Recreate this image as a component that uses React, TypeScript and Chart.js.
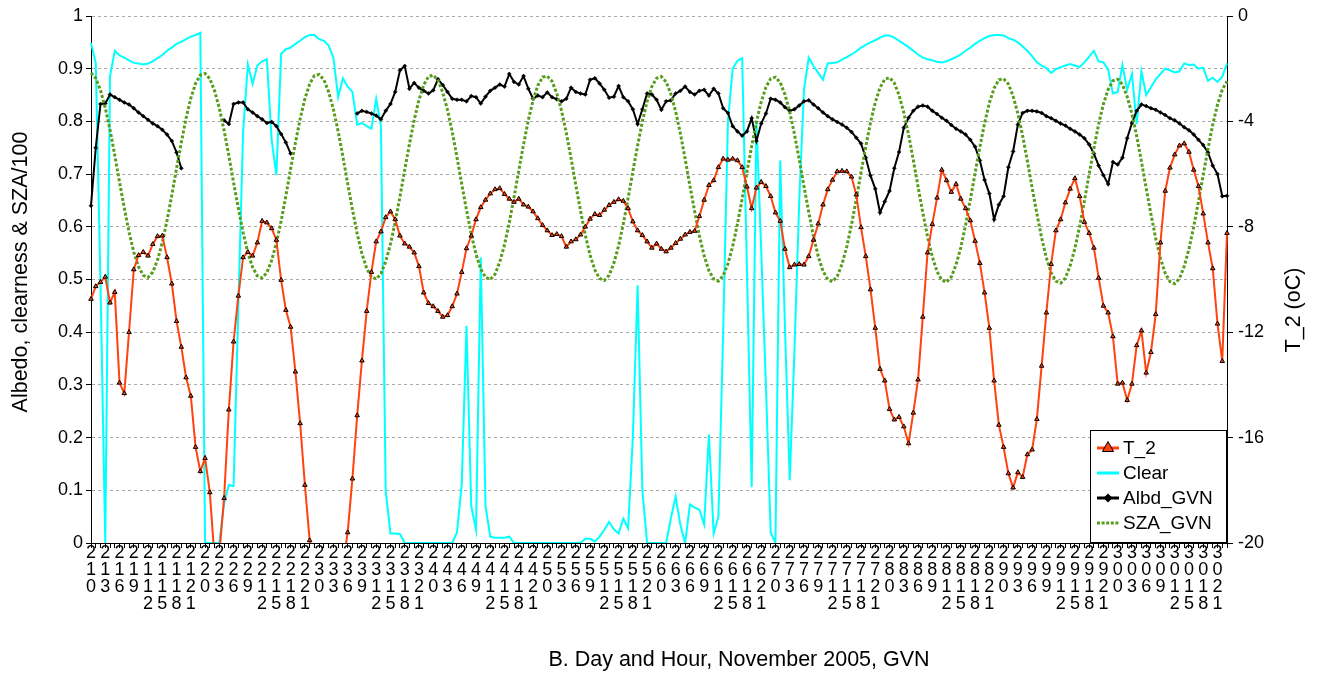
import React, { useEffect, useRef } from 'react';
import { Chart, registerables } from 'chart.js';

Chart.register(...registerables);

// ---------- data ----------
const days = [21, 22, 23, 24, 25, 26, 27, 28, 29, 30];
const hoursOfDay = [0, 1, 2, 3, 4, 5, 6, 7, 8, 9, 10, 11, 12, 13, 14, 15, 16, 17, 18, 19, 20, 21, 22, 23];
const labelEvery = 3;

const seriesNames = ['T_2', 'Clear', 'Albd_GVN', 'SZA_GVN'];

// T_2 (oC), hourly
const t2 = [
  -10.74, -10.26, -10.10, -9.90, -10.88, -10.48, -13.92, -14.32, -12.00, -9.62, -9.08, -8.96, -9.10, -8.66, -8.36, -8.34, -9.16, -10.16, -11.58, -12.56, -13.72, -14.42, -16.36, -17.28,
  -16.78, -18.08, -20.6, -20.4, -18.30, -14.94, -12.36, -10.62, -9.16, -8.96, -9.10, -8.60, -7.78, -7.84, -8.06, -8.50, -10.02, -11.16, -11.80, -13.50, -15.46, -17.80, -19.90, -21.0,
  -21.6, -22.0, -22.2, -22.0, -21.6, -20.8, -19.60, -17.56, -15.16, -13.08, -11.20, -9.72, -8.56, -8.18, -7.64, -7.42, -7.72, -8.34, -8.64, -8.76, -8.98, -9.50, -10.50, -10.90,
  -11.02, -11.20, -11.42, -11.36, -11.02, -10.54, -9.72, -8.82, -8.34, -7.72, -7.26, -6.98, -6.74, -6.58, -6.54, -6.76, -6.94, -7.06, -6.94, -7.16, -7.24, -7.42, -7.68, -7.94,
  -8.14, -8.32, -8.28, -8.36, -8.76, -8.56, -8.48, -8.30, -8.00, -7.70, -7.52, -7.56, -7.36, -7.18, -7.06, -6.96, -7.02, -7.30, -7.80, -8.14, -8.32, -8.56, -8.80, -8.64,
  -8.84, -8.94, -8.80, -8.62, -8.46, -8.30, -8.20, -8.16, -7.60, -6.98, -6.42, -6.24, -5.74, -5.42, -5.46, -5.42, -5.48, -5.74, -6.48, -7.30, -6.52, -6.30, -6.46, -6.84,
  -7.46, -7.78, -8.84, -9.54, -9.44, -9.42, -9.44, -9.12, -8.50, -7.88, -7.16, -6.58, -6.22, -5.90, -5.88, -5.90, -6.10, -6.78, -8.02, -9.12, -10.38, -11.84, -13.40, -13.84,
  -14.92, -15.32, -15.22, -15.58, -16.22, -15.06, -13.80, -11.42, -8.98, -7.90, -6.90, -5.84, -6.24, -6.68, -6.38, -6.94, -7.30, -7.76, -8.54, -9.38, -10.50, -11.84, -13.84, -15.52,
  -16.36, -17.36, -17.90, -17.32, -17.50, -16.64, -16.46, -15.30, -13.28, -11.26, -9.42, -8.14, -7.72, -7.08, -6.56, -6.16, -6.84, -7.82, -8.24, -8.80, -9.94, -11.00, -11.26, -12.16,
  -13.96, -13.92, -14.58, -13.96, -12.50, -11.94, -13.54, -12.76, -11.32, -8.60, -6.64, -5.76, -5.26, -4.92, -4.84, -5.16, -5.84, -6.46, -7.50, -8.60, -9.58, -11.68, -13.10, -8.24,
];

// Clearness index, hourly
const clear = [
  0.949, 0.911, 0.49, 0, 0.885, 0.934, 0.925, 0.921, 0.916, 0.911, 0.910, 0.908, 0.910, 0.914, 0.920, 0.926, 0.934, 0.940, 0.947, 0.951, 0.956, 0.961, 0.964, 0.968,
  0, 0, 0, 0, 0.075, 0.110, 0.108, 0.45, 0.78, 0.908, 0.871, 0.906, 0.914, 0.918, 0.765, 0.698, 0.928, 0.937, 0.940, 0.947, 0.953, 0.960, 0.964, 0.964,
  0.956, 0.953, 0.944, 0.921, 0.846, 0.882, 0.866, 0.856, 0.794, 0.797, 0.791, 0.786, 0.843, 0.791, 0.099, 0.018, 0.018, 0.017, 0, 0, 0, 0, 0, 0,
  0, 0, 0, 0, 0, 0.020, 0.112, 0.412, 0.070, 0.025, 0.542, 0.070, 0.012, 0.010, 0.010, 0.010, 0.012, 0, 0, 0, 0, 0, 0, 0,
  0, 0, 0, 0, 0, 0, 0, 0, 0.008, 0.008, 0.003, 0.012, 0.025, 0.040, 0.026, 0.018, 0.046, 0.028, 0.200, 0.489, 0.100, 0, 0, 0,
  0, 0, 0.047, 0.088, 0.034, 0, 0.073, 0.067, 0.063, 0.035, 0.206, 0.018, 0.050, 0.40, 0.80, 0.90, 0.915, 0.920, 0.52, 0.106, 0.800, 0.557, 0.296, 0.02,
  0, 0.726, 0.41, 0.119, 0.366, 0.647, 0.86, 0.921, 0.905, 0.892, 0.879, 0.91, 0.911, 0.912, 0.917, 0.922, 0.927, 0.933, 0.940, 0.945, 0.950, 0.954, 0.959, 0.963,
  0.963, 0.959, 0.953, 0.947, 0.941, 0.934, 0.927, 0.921, 0.918, 0.916, 0.913, 0.912, 0.914, 0.918, 0.922, 0.927, 0.934, 0.940, 0.947, 0.953, 0.958, 0.962, 0.964, 0.964,
  0.963, 0.958, 0.955, 0.950, 0.942, 0.934, 0.924, 0.912, 0.906, 0.901, 0.892, 0.899, 0.903, 0.906, 0.909, 0.906, 0.903, 0.912, 0.923, 0.934, 0.914, 0.912, 0.898, 0.853,
  0.856, 0.907, 0.86, 0.89, 0.795, 0.895, 0.85, 0.865, 0.88, 0.89, 0.9, 0.897, 0.893, 0.895, 0.91, 0.907, 0.908, 0.9, 0.902, 0.877, 0.883, 0.875, 0.885, 0.91,
];

// Albedo at GVN, hourly (null = missing)
const albd = [
  0.640, 0.750, 0.833, 0.834, 0.851, 0.846, 0.841, 0.836, 0.832, 0.825, 0.817, 0.810, 0.803, 0.796, 0.791, 0.784, 0.775, 0.763, 0.741, 0.711, null, null, null, null,
  null, null, null, null, 0.802, 0.795, 0.833, 0.836, 0.836, 0.823, 0.817, 0.810, 0.804, 0.797, 0.799, 0.791, 0.776, 0.760, 0.739, null, null, null, null, null,
  null, null, null, null, null, null, null, null, 0.815, 0.820, 0.818, 0.815, 0.811, 0.804, 0.820, 0.833, 0.856, 0.897, 0.905, 0.862, 0.873, 0.864, 0.858, 0.853,
  0.859, 0.880, 0.869, 0.856, 0.843, 0.841, 0.841, 0.838, 0.848, 0.846, 0.834, 0.847, 0.858, 0.864, 0.870, 0.866, 0.890, 0.875, 0.870, 0.886, 0.862, 0.843, 0.849, 0.846,
  0.855, 0.846, 0.842, 0.838, 0.843, 0.864, 0.856, 0.853, 0.851, 0.879, 0.882, 0.872, 0.860, 0.845, 0.847, 0.867, 0.846, 0.838, 0.823, 0.795, 0.823, 0.853, 0.851, 0.841,
  0.822, 0.838, 0.840, 0.853, 0.858, 0.866, 0.856, 0.851, 0.858, 0.860, 0.849, 0.862, 0.853, 0.825, 0.816, 0.791, 0.781, 0.773, 0.781, 0.806, 0.763, 0.796, 0.815, 0.843,
  0.841, 0.836, 0.827, 0.820, 0.823, 0.830, 0.838, 0.840, 0.832, 0.825, 0.817, 0.810, 0.804, 0.799, 0.794, 0.788, 0.780, 0.769, 0.758, 0.731, 0.697, 0.672, 0.627, 0.648,
  0.668, 0.711, 0.742, 0.788, 0.807, 0.820, 0.828, 0.830, 0.828, 0.820, 0.814, 0.807, 0.801, 0.793, 0.786, 0.781, 0.775, 0.765, 0.752, 0.726, 0.689, 0.663, 0.614, 0.642,
  0.658, 0.713, 0.743, 0.794, 0.816, 0.820, 0.820, 0.819, 0.816, 0.810, 0.806, 0.801, 0.796, 0.792, 0.786, 0.781, 0.775, 0.768, 0.756, 0.739, 0.716, 0.698, 0.681, 0.723,
  0.718, 0.731, 0.768, 0.797, 0.820, 0.832, 0.829, 0.825, 0.822, 0.817, 0.812, 0.806, 0.802, 0.796, 0.789, 0.783, 0.775, 0.765, 0.755, 0.741, 0.716, 0.700, 0.658, 0.659,
];

// Solar zenith angle / 100 at GVN, hourly
const sza = [
  0.892, 0.882, 0.859, 0.826, 0.784, 0.736, 0.685, 0.636, 0.590, 0.552, 0.524, 0.508, 0.504, 0.514, 0.537, 0.570, 0.612, 0.660, 0.711, 0.760, 0.806, 0.844, 0.872, 0.888,
  0.891, 0.881, 0.858, 0.825, 0.783, 0.735, 0.684, 0.635, 0.589, 0.551, 0.523, 0.507, 0.503, 0.513, 0.536, 0.569, 0.611, 0.659, 0.710, 0.759, 0.805, 0.843, 0.871, 0.887,
  0.889, 0.879, 0.856, 0.823, 0.781, 0.733, 0.682, 0.633, 0.587, 0.549, 0.521, 0.505, 0.501, 0.511, 0.534, 0.567, 0.609, 0.657, 0.708, 0.757, 0.803, 0.841, 0.869, 0.885,
  0.888, 0.878, 0.855, 0.822, 0.780, 0.732, 0.681, 0.632, 0.586, 0.548, 0.520, 0.504, 0.500, 0.510, 0.533, 0.566, 0.608, 0.656, 0.707, 0.756, 0.802, 0.840, 0.868, 0.884,
  0.886, 0.876, 0.853, 0.820, 0.778, 0.730, 0.679, 0.630, 0.584, 0.546, 0.518, 0.502, 0.498, 0.508, 0.531, 0.564, 0.606, 0.654, 0.705, 0.754, 0.800, 0.838, 0.866, 0.882,
  0.885, 0.875, 0.852, 0.819, 0.777, 0.729, 0.678, 0.629, 0.583, 0.545, 0.517, 0.501, 0.497, 0.507, 0.530, 0.563, 0.605, 0.653, 0.704, 0.753, 0.799, 0.837, 0.865, 0.881,
  0.884, 0.874, 0.851, 0.818, 0.776, 0.728, 0.677, 0.628, 0.582, 0.544, 0.516, 0.500, 0.496, 0.506, 0.529, 0.562, 0.604, 0.652, 0.703, 0.752, 0.798, 0.836, 0.864, 0.880,
  0.883, 0.873, 0.850, 0.817, 0.775, 0.727, 0.676, 0.627, 0.581, 0.543, 0.515, 0.499, 0.495, 0.505, 0.528, 0.561, 0.603, 0.651, 0.702, 0.751, 0.797, 0.835, 0.863, 0.879,
  0.881, 0.871, 0.848, 0.815, 0.773, 0.725, 0.674, 0.625, 0.579, 0.541, 0.513, 0.497, 0.493, 0.503, 0.526, 0.559, 0.601, 0.649, 0.700, 0.749, 0.795, 0.833, 0.861, 0.877,
  0.880, 0.870, 0.847, 0.814, 0.772, 0.724, 0.673, 0.624, 0.578, 0.540, 0.512, 0.496, 0.492, 0.502, 0.525, 0.558, 0.600, 0.648, 0.699, 0.748, 0.794, 0.832, 0.860, 0.876,
];

const xTitle = 'B. Day and Hour, November 2005, GVN';
const yTitle = 'Albedo, clearness & SZA/100';
const y2Title = 'T_2 (oC)';

// ---------- styling ----------
const FONT = "'Liberation Sans', Arial, Helvetica, sans-serif";
const RED = '#ff420e';
const CYAN = '#00ffff';
const BLACK = '#000000';
const GREEN = '#579d1c';

const categories = days.flatMap((d) => hoursOfDay.map((h) => `${d} ${h}`));

function xTickLabel(index: number): string | string[] {
  const h = hoursOfDay[index % hoursOfDay.length];
  if (h % labelEvery !== 0) return '';
  const d = days[Math.floor(index / hoursOfDay.length)];
  return (String(d) + String(h)).split('');
}

const overlay = {
  id: 'overlay',
  afterDraw(chart: any) {
    const ctx: CanvasRenderingContext2D = chart.ctx;
    const area = chart.chartArea;
    ctx.save();
    ctx.fillStyle = '#000';
    ctx.textAlign = 'center';
    ctx.textBaseline = 'middle';
    ctx.font = `21.5px ${FONT}`;
    ctx.fillText(xTitle, 739, 660);
    ctx.save();
    ctx.translate(21, 272);
    ctx.rotate(-Math.PI / 2);
    ctx.fillText(yTitle, 0, 0);
    ctx.restore();
    ctx.save();
    ctx.translate(1294, 310);
    ctx.rotate(-Math.PI / 2);
    ctx.fillText(y2Title, 0, 0);
    ctx.restore();

    // legend box
    const lx = 1090.5;
    const ly = 430.5;
    const lw = Math.round(area.right) - 0.5 - lx;
    const lh = Math.round(area.bottom) - 0.5 - ly;
    ctx.fillStyle = '#fff';
    ctx.fillRect(lx, ly, lw, lh);
    ctx.strokeStyle = '#000';
    ctx.lineWidth = 1;
    ctx.setLineDash([]);
    ctx.strokeRect(lx, ly, lw, lh);

    const rows = [448, 473, 498, 523];
    const sx1 = 1097;
    const sx2 = 1119;
    const cx = (sx1 + sx2) / 2;
    const colors = [RED, CYAN, BLACK, GREEN];
    rows.forEach((y, i) => {
      ctx.save();
      ctx.strokeStyle = colors[i];
      ctx.lineWidth = 3;
      if (i === 3) ctx.setLineDash([3, 1.6]);
      ctx.beginPath();
      ctx.moveTo(sx1, y);
      ctx.lineTo(sx2, y);
      ctx.stroke();
      ctx.restore();
      if (i === 0) {
        ctx.beginPath();
        ctx.moveTo(cx, y - 6.5);
        ctx.lineTo(cx + 5.6, y + 3.5);
        ctx.lineTo(cx - 5.6, y + 3.5);
        ctx.closePath();
        ctx.fillStyle = RED;
        ctx.fill();
        ctx.strokeStyle = '#000';
        ctx.lineWidth = 1;
        ctx.stroke();
      }
      if (i === 2) {
        ctx.beginPath();
        ctx.moveTo(cx, y - 4.5);
        ctx.lineTo(cx + 4.5, y);
        ctx.lineTo(cx, y + 4.5);
        ctx.lineTo(cx - 4.5, y);
        ctx.closePath();
        ctx.fillStyle = '#000';
        ctx.fill();
      }
      ctx.fillStyle = '#000';
      ctx.textAlign = 'left';
      ctx.textBaseline = 'middle';
      ctx.font = `19px ${FONT}`;
      ctx.fillText(seriesNames[i], 1123, y + 1);
    });
    ctx.restore();
  },
};

export default function App() {
  const ref = useRef<HTMLCanvasElement>(null);

  useEffect(() => {
    const canvas = ref.current;
    if (!canvas) return;
    const chart = new Chart(canvas, {
      type: 'line',
      data: {
        labels: categories,
        datasets: [
          {
            label: seriesNames[0],
            data: t2,
            yAxisID: 'y2',
            borderColor: RED,
            backgroundColor: RED,
            borderWidth: 2,
            pointStyle: 'triangle',
            pointRadius: 2.6,
            pointBackgroundColor: RED,
            pointBorderColor: '#000',
            pointBorderWidth: 1,
            tension: 0,
            order: 0,
          },
          {
            label: seriesNames[1],
            data: clear,
            yAxisID: 'y',
            borderColor: CYAN,
            backgroundColor: CYAN,
            borderWidth: 2,
            pointRadius: 0,
            tension: 0,
            order: 3,
          },
          {
            label: seriesNames[2],
            data: albd,
            yAxisID: 'y',
            borderColor: BLACK,
            backgroundColor: BLACK,
            borderWidth: 2,
            pointStyle: 'rectRot',
            pointRadius: 2,
            pointBackgroundColor: BLACK,
            pointBorderColor: BLACK,
            pointBorderWidth: 0.5,
            spanGaps: false,
            tension: 0,
            order: 2,
          },
          {
            label: seriesNames[3],
            data: sza,
            yAxisID: 'y',
            borderColor: GREEN,
            backgroundColor: GREEN,
            borderWidth: 3,
            borderDash: [3, 2],
            borderCapStyle: 'butt',
            pointRadius: 0,
            tension: 0,
            order: 1,
          },
        ] as any,
      },
      options: {
        responsive: false,
        devicePixelRatio: 1,
        animation: false,
        layout: { padding: { top: 16, left: 0, right: 0, bottom: 0 } },
        plugins: {
          legend: { display: false },
          tooltip: { enabled: false },
          title: { display: false },
        },
        scales: {
          x: {
            type: 'category',
            offset: false,
            grid: {
              display: true,
              drawOnChartArea: false,
              drawTicks: true,
              tickLength: 5,
              tickColor: '#000',
              tickWidth: 1,
            },
            border: { display: true, color: '#000', width: 1 },
            ticks: {
              autoSkip: false,
              maxRotation: 0,
              minRotation: 0,
              padding: -4,
              color: '#000',
              font: { family: FONT, size: 18, lineHeight: 0.95 },
              callback: (_v: any, i: number) => xTickLabel(i),
            },
            afterFit: (s: any) => {
              s.height = 132;
            },
          },
          y: {
            type: 'linear',
            position: 'left',
            min: 0,
            max: 1,
            ticks: {
              stepSize: 0.1,
              padding: 3,
              color: '#000',
              font: { family: FONT, size: 18 },
              callback: (v: any) => String(Math.round(Number(v) * 10) / 10),
            },
            grid: {
              color: '#a8a8a8',
              lineWidth: 1,
              tickLength: 5,
              tickColor: '#000',
              tickBorderDash: [],
            },
            border: { display: true, color: '#000', width: 1, dash: [3, 3] },
            afterFit: (s: any) => {
              s.width = 91;
            },
          },
          y2: {
            type: 'linear',
            position: 'right',
            min: -20,
            max: 0,
            ticks: {
              stepSize: 4,
              padding: 5,
              color: '#000',
              font: { family: FONT, size: 18 },
            },
            grid: {
              drawOnChartArea: false,
              tickLength: 6,
              tickColor: '#000',
            },
            border: { display: true, color: '#000', width: 1 },
            afterFit: (s: any) => {
              s.width = 92;
            },
          },
        },
      } as any,
      plugins: [overlay],
    });
    return () => chart.destroy();
  }, []);

  return (
    <div style={{ position: 'fixed', left: 0, top: 0, width: 1319, height: 675, background: '#fff' }}>
      <canvas ref={ref} width={1319} height={675} style={{ display: 'block', width: 1319, height: 675 }} />
    </div>
  );
}
